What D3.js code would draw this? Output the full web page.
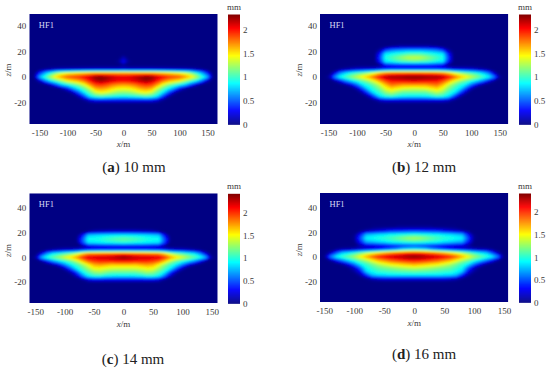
<!DOCTYPE html>
<html><head><meta charset="utf-8">
<style>html,body{margin:0;padding:0;background:#fff}svg{display:block}text{font-family:"Liberation Serif",serif;fill:#3a3a3a}</style>
<script src="https://cdn.jsdelivr.net/npm/d3@7/dist/d3.min.js"></script>
</head><body><svg id="c" width="550" height="370"></svg>
<script>
// grid positions of the sampled thickness values (m)
const xSamples=[-160,-150,-140,-130,-120,-110,-100,-90,-80,-70,-60,-50,-40,-30,-20,-10,0,10,20,30,40,50,60,70,80,90,100,110,120,130,140,150,160];
const zSamples=[24,21,18,15,12,9,6,3,0,-3,-6,-9,-12,-15,-18,-21];
const xTicks=[-150,-100,-50,0,50,100,150];
const zTicks=[-20,0,20,40];
const barTicks=[0,0.5,1,1.5,2];
const barLabels=["0","0.5","1","1.5","2"];
const empty=[0,0,0,0,0,0,0,0,0,0,0,0,0,0,0,0,0,0,0,0,0,0,0,0,0,0,0,0,0,0,0,0,0];
const captions=["10 mm","12 mm","14 mm","16 mm"];
const letters=["(a)","(b)","(c)","(d)"];

const thicknessA=[
empty,empty,empty,
[0,0,0,0,0,0,0,0,0,0,0,0,0,0,0,0,.14,0,0,0,0,0,0,0,0,0,0,0,0,0,0,0,0],
[0,0,0,0,0,0,0,0,0,0,0,0,0,0,0,.05,.3,.05,0,0,0,0,0,0,0,0,0,0,0,0,0,0,0],
[0,0,0,0,0,0,0,0,0,0,0,0,0,0,0,0,.05,0,0,0,0,0,0,0,0,0,0,0,0,0,0,0,0],
[0,.02,.05,.09,.12,.14,.15,.16,.17,.18,.19,.2,.2,.2,.2,.2,.22,.2,.2,.2,.2,.2,.19,.18,.17,.16,.15,.14,.12,.09,.05,.02,0],
[0,.35,.7,.95,1.2,1.35,1.45,1.5,1.55,1.6,1.65,1.7,1.7,1.7,1.7,1.7,1.7,1.7,1.7,1.7,1.7,1.7,1.65,1.6,1.55,1.5,1.45,1.35,1.2,.95,.7,.35,0],
[.03,.7,1,1.3,1.55,1.72,1.85,1.9,1.95,2.05,2.15,2.3,2.32,2.27,2.18,2.12,2.1,2.12,2.18,2.27,2.32,2.3,2.15,2.05,1.95,1.9,1.85,1.72,1.55,1.3,1,.7,.03],
[0,.15,.55,.85,1.05,1.25,1.45,1.55,1.65,1.8,2,2.2,2.28,2.2,2.12,2.07,2.05,2.07,2.12,2.2,2.28,2.2,2,1.8,1.65,1.55,1.45,1.25,1.05,.85,.55,.15,0],
[0,0,.02,.15,.45,.75,.9,1.05,1.2,1.4,1.7,1.9,1.95,1.88,1.78,1.72,1.7,1.72,1.78,1.88,1.95,1.9,1.7,1.4,1.2,1.05,.9,.75,.45,.15,.02,0,0],
[0,0,0,0,0,.08,.3,.65,.88,1.1,1.35,1.65,1.7,1.65,1.55,1.47,1.45,1.47,1.55,1.65,1.7,1.65,1.35,1.1,.88,.65,.3,.08,0,0,0,0,0],
[0,0,0,0,0,0,.02,.15,.5,.85,1.1,1.35,1.45,1.4,1.3,1.22,1.2,1.22,1.3,1.4,1.45,1.35,1.1,.85,.5,.15,.02,0,0,0,0,0,0],
[0,0,0,0,0,0,0,0,.12,.45,.85,1,1.05,1,.95,.92,.9,.92,.95,1,1.05,1,.85,.45,.12,0,0,0,0,0,0,0,0],
[0,0,0,0,0,0,0,0,0,.06,.22,.3,.3,.3,.3,.3,.3,.3,.3,.3,.3,.3,.22,.06,0,0,0,0,0,0,0,0,0],
empty];

const thicknessB=[
[0,0,0,0,0,0,0,0,0,0,0,0,.03,.05,.05,.05,.05,.05,.05,.05,.03,0,0,0,0,0,0,0,0,0,0,0,0],
[0,0,0,0,0,0,0,0,0,0,.1,.4,.55,.6,.63,.65,.65,.65,.63,.6,.55,.4,.1,0,0,0,0,0,0,0,0,0,0],
[0,0,0,0,0,0,0,0,0,0,.35,.85,.9,.95,1,1.05,1.05,1.05,1,.95,.9,.85,.35,0,0,0,0,0,0,0,0,0,0],
[0,0,0,0,0,0,0,0,0,0,.45,.95,1.05,1.15,1.25,1.33,1.35,1.33,1.25,1.15,1.05,.95,.45,0,0,0,0,0,0,0,0,0,0],
[0,0,0,0,0,0,0,0,0,0,.35,.85,.9,.98,1.03,1.05,1.07,1.05,1.03,.98,.9,.85,.35,0,0,0,0,0,0,0,0,0,0],
[0,0,0,0,0,0,0,0,0,0,.05,.25,.28,.3,.3,.3,.3,.3,.3,.3,.28,.25,.05,0,0,0,0,0,0,0,0,0,0],
[0,0,0,.05,.1,.15,.2,.22,.24,.26,.3,.35,.4,.4,.4,.4,.4,.4,.4,.4,.4,.35,.3,.26,.24,.22,.2,.15,.1,.05,0,0,0],
[0,0,.2,.6,.8,.95,1.05,1.15,1.25,1.4,1.6,1.75,1.8,1.82,1.84,1.85,1.85,1.85,1.84,1.82,1.8,1.75,1.6,1.4,1.25,1.15,1.05,.95,.8,.6,.2,0,0],
[0,.08,.6,.9,1.05,1.2,1.35,1.5,1.65,1.85,2.05,2.2,2.27,2.28,2.3,2.32,2.32,2.32,2.3,2.28,2.27,2.2,2.05,1.85,1.65,1.5,1.35,1.2,1.05,.9,.6,.08,0],
[0,0,.07,.3,.6,.8,.95,1.1,1.25,1.45,1.7,1.9,2.03,2.05,2.08,2.1,2.12,2.1,2.08,2.05,2.03,1.9,1.7,1.45,1.25,1.1,.95,.8,.6,.3,.07,0,0],
[0,0,0,0,.07,.25,.55,.85,.97,1.15,1.35,1.62,1.8,1.75,1.7,1.7,1.7,1.7,1.7,1.75,1.8,1.62,1.35,1.15,.97,.85,.55,.25,.07,0,0,0,0],
[0,0,0,0,0,0,.15,.5,.85,1,1.18,1.42,1.55,1.48,1.4,1.37,1.35,1.37,1.4,1.48,1.55,1.42,1.18,1,.85,.5,.15,0,0,0,0,0,0],
[0,0,0,0,0,0,0,.15,.5,.88,1,1.2,1.3,1.2,1.1,1.1,1.1,1.1,1.1,1.2,1.3,1.2,1,.88,.5,.15,0,0,0,0,0,0,0],
[0,0,0,0,0,0,0,0,.12,.45,.83,.95,1,.92,.87,.85,.85,.85,.87,.92,1,.95,.83,.45,.12,0,0,0,0,0,0,0,0],
[0,0,0,0,0,0,0,0,0,.05,.18,.25,.25,.25,.25,.25,.25,.25,.25,.25,.25,.25,.18,.05,0,0,0,0,0,0,0,0,0],
empty];

const thicknessC=[
empty,
[0,0,0,0,0,0,0,0,0,0,.05,.12,.15,.17,.2,.2,.2,.2,.2,.17,.15,.12,.05,0,0,0,0,0,0,0,0,0,0],
[0,0,0,0,0,0,0,0,0,.3,.78,.82,.85,.87,.88,.9,.9,.9,.88,.87,.85,.82,.78,.3,0,0,0,0,0,0,0,0,0],
[0,0,0,0,0,0,0,0,.03,.5,.95,.97,1,1.05,1.1,1.13,1.15,1.13,1.1,1.05,1,.97,.95,.5,.03,0,0,0,0,0,0,0,0],
[0,0,0,0,0,0,0,0,0,.45,.85,.87,.9,.93,.95,.98,1,.98,.95,.93,.9,.87,.85,.45,0,0,0,0,0,0,0,0,0],
[0,0,0,0,0,0,0,0,0,.05,.2,.22,.25,.25,.25,.25,.25,.25,.25,.25,.25,.22,.2,.05,0,0,0,0,0,0,0,0,0],
[0,0,0,.05,.1,.15,.2,.22,.25,.32,.4,.42,.45,.45,.45,.45,.45,.45,.45,.45,.45,.42,.4,.32,.25,.22,.2,.15,.1,.05,0,0,0],
[0,0,.25,.65,.9,1,1.1,1.2,1.35,1.6,1.8,1.83,1.85,1.88,1.9,1.93,1.95,1.93,1.9,1.88,1.85,1.83,1.8,1.6,1.35,1.2,1.1,1,.9,.65,.25,0,0],
[0,.08,.72,1,1.15,1.3,1.45,1.6,1.78,2.02,2.2,2.22,2.24,2.25,2.28,2.35,2.41,2.35,2.28,2.25,2.24,2.22,2.2,2.02,1.78,1.6,1.45,1.3,1.15,1,.72,.08,0],
[0,0,.07,.35,.65,.85,1,1.15,1.35,1.65,1.9,2,2.05,2.07,2.08,2.1,2.1,2.1,2.08,2.07,2.05,2,1.9,1.65,1.35,1.15,1,.85,.65,.35,.07,0,0],
[0,0,0,0,.07,.25,.6,.88,1.05,1.25,1.5,1.7,1.75,1.7,1.65,1.65,1.65,1.65,1.65,1.7,1.75,1.7,1.5,1.25,1.05,.88,.6,.25,.07,0,0,0,0],
[0,0,0,0,0,0,.15,.5,.88,1.1,1.3,1.5,1.5,1.45,1.42,1.4,1.4,1.4,1.42,1.45,1.5,1.5,1.3,1.1,.88,.5,.15,0,0,0,0,0,0],
[0,0,0,0,0,0,0,.12,.45,.9,1.1,1.25,1.3,1.22,1.15,1.15,1.15,1.15,1.15,1.22,1.3,1.25,1.1,.9,.45,.12,0,0,0,0,0,0,0],
[0,0,0,0,0,0,0,0,.15,.55,.9,1,1,.93,.9,.88,.88,.88,.9,.93,1,1,.9,.55,.15,0,0,0,0,0,0,0,0],
[0,0,0,0,0,0,0,0,0,.06,.22,.28,.28,.28,.28,.28,.28,.28,.28,.28,.28,.28,.22,.06,0,0,0,0,0,0,0,0,0],
empty];

const thicknessD=[
[0,0,0,0,0,0,0,0,0,.02,.03,.04,.04,.05,.05,.05,.05,.05,.05,.05,.04,.04,.03,.02,0,0,0,0,0,0,0,0,0],
[0,0,0,0,0,0,0,.04,.12,.18,.25,.3,.38,.4,.42,.45,.45,.45,.42,.4,.38,.3,.25,.18,.12,.04,0,0,0,0,0,0,0],
[0,0,0,0,0,0,.03,.35,.75,.8,.85,.88,.93,.95,.98,1,1.02,1,.98,.95,.93,.88,.85,.8,.75,.35,.03,0,0,0,0,0,0],
[0,0,0,0,0,0,.05,.5,.9,.95,1,1.03,1.08,1.15,1.23,1.3,1.33,1.3,1.23,1.15,1.08,1.03,1,.95,.9,.5,.05,0,0,0,0,0,0],
[0,0,0,0,0,0,.02,.35,.7,.75,.8,.85,.92,.95,.98,1,1.02,1,.98,.95,.92,.85,.8,.75,.7,.35,.02,0,0,0,0,0,0],
[0,0,0,0,0,0,0,.1,.2,.22,.25,.3,.35,.4,.45,.48,.5,.48,.45,.4,.35,.3,.25,.22,.2,.1,0,0,0,0,0,0,0],
[0,0,0,.05,.1,.12,.15,.2,.25,.3,.35,.45,.55,.65,.8,.87,.9,.87,.8,.65,.55,.45,.35,.3,.25,.2,.15,.12,.1,.05,0,0,0],
[0,0,.15,.5,.8,.9,1.02,1.18,1.32,1.45,1.58,1.7,1.8,1.88,1.95,2.02,2.05,2.02,1.95,1.88,1.8,1.7,1.58,1.45,1.32,1.18,1.02,.9,.8,.5,.15,0,0],
[0,.03,.6,.9,1.05,1.18,1.32,1.52,1.72,1.9,2.05,2.15,2.23,2.27,2.32,2.38,2.41,2.38,2.32,2.27,2.23,2.15,2.05,1.9,1.72,1.52,1.32,1.18,1.05,.9,.6,.03,0],
[0,0,.07,.35,.6,.82,1,1.18,1.32,1.52,1.7,1.8,1.9,1.97,2.04,2.08,2.1,2.08,2.04,1.97,1.9,1.8,1.7,1.52,1.32,1.18,1,.82,.6,.35,.07,0,0],
[0,0,0,0,.08,.3,.6,.9,1.05,1.2,1.35,1.45,1.55,1.6,1.65,1.7,1.75,1.7,1.65,1.6,1.55,1.45,1.35,1.2,1.05,.9,.6,.3,.08,0,0,0,0],
[0,0,0,0,0,.03,.18,.55,.95,1.05,1.15,1.2,1.25,1.3,1.35,1.38,1.4,1.38,1.35,1.3,1.25,1.2,1.15,1.05,.95,.55,.18,.03,0,0,0,0,0],
[0,0,0,0,0,0,.07,.3,.8,.95,1.03,1.05,1.08,1.1,1.12,1.13,1.15,1.13,1.12,1.1,1.08,1.05,1.03,.95,.8,.3,.07,0,0,0,0,0,0],
[0,0,0,0,0,0,0,.1,.4,.75,.83,.85,.88,.88,.88,.88,.88,.88,.88,.88,.88,.85,.83,.75,.4,.1,0,0,0,0,0,0,0],
[0,0,0,0,0,0,0,0,.04,.14,.2,.25,.25,.25,.25,.25,.25,.25,.25,.25,.25,.25,.2,.14,.04,0,0,0,0,0,0,0,0],
empty];

const fields=[thicknessA,thicknessB,thicknessC,thicknessD];
// axis limits of each panel
const xLimits=[168,165,160,157];
const zLimits=[[-36.6,49],[-36.6,49],[-37,52],[-37,52]];
const barMax=[2.32,2.32,2.41,2.41];

// layout (px)
const plots=[{x0:29.3,x1:217.7,y0:14,y1:124,bx:228,mm:7,cap:167,capx:134,xt:133,xl:144,zx:8},
             {x0:320,x1:508.3,y0:14,y1:124,bx:519,mm:7,cap:167,capx:424,xt:133,xl:144,zx:299},
             {x0:29.3,x1:217.7,y0:193.3,y1:303,bx:228,mm:186,cap:359,capx:133,xt:312,xl:324,zx:8},
             {x0:320,x1:508.3,y0:193,y1:302,bx:519,mm:186,cap:354,capx:424,xt:311,xl:323,zx:299}];

const svg=d3.select("#c");
const defs=svg.append("defs");
defs.append("filter").attr("id","soft").attr("x","-5%").attr("y","-5%").attr("width","110%").attr("height","110%")
  .append("feGaussianBlur").attr("stdDeviation",0.9);

const jet=t=>d3.scaleLinear().domain([0,.125,.375,.625,.875,1])
  .range(["#000083","#0000ff","#00ffff","#ffff00","#ff0000","#7f0000"]).clamp(true)(t);

plots.forEach((p,k)=>{
  const g=svg.append("g");
  const x=d3.scaleLinear().domain([-xLimits[k],xLimits[k]]).range([p.x0,p.x1]);
  const z=d3.scaleLinear().domain(zLimits[k]).range([p.y1,p.y0]);
  const color=d3.scaleLinear().domain([0,barMax[k]]).range([0,1]);
  defs.append("clipPath").attr("id","clip"+k).append("rect")
    .attr("x",p.x0).attr("y",p.y0).attr("width",p.x1-p.x0).attr("height",p.y1-p.y0);

  const field=fields[k], n=xSamples.length, m=zSamples.length;
  const values=field.flat();
  const dx=xSamples[1]-xSamples[0], dz=zSamples[1]-zSamples[0];
  const path=d3.geoPath(d3.geoTransform({point(a,b){
    this.stream.point(x(xSamples[0]+(a-.5)*dx), z(zSamples[0]+(b-.5)*dz));
  }}));
  const levels=d3.range(0.02,barMax[k],0.03);
  const contours=d3.contours().size([n,m]).smooth(true).thresholds(levels)(values);

  const plot=g.append("g").attr("clip-path",`url(#clip${k})`);
  plot.append("rect").attr("x",p.x0).attr("y",p.y0).attr("width",p.x1-p.x0).attr("height",p.y1-p.y0).attr("fill",jet(0));
  const inner=plot.append("g").attr("filter","url(#soft)");
  inner.selectAll("path").data(contours).join("path")
    .attr("d",path).attr("fill",d=>jet(color(d.value))).attr("stroke","none");

  g.append("text").attr("x",p.x0+9.5).attr("y",p.y0+14).attr("font-size",8.5).style("fill","#d8dcf5").text("HF1");

  // axes
  const xa=g.append("g").attr("transform",`translate(0,${p.xt})`)
    .call(d3.axisBottom(x).tickValues(xTicks).tickSize(0).tickPadding(0).tickFormat(d=>String(d)));
  const za=g.append("g").attr("transform",`translate(${p.x0},0)`)
    .call(d3.axisLeft(z).tickValues(zTicks).tickSize(0).tickPadding(3).tickFormat(d=>String(d)));
  [xa,za].forEach(a=>{a.select(".domain").remove();
    a.selectAll("text").attr("font-family",null).attr("font-size",9).style("fill","#3a3a3a");});
  xa.selectAll("text").attr("y",0).attr("dy","0.32em");

  const xl=g.append("text").attr("x",(p.x0+p.x1)/2).attr("y",p.xl+3).attr("text-anchor","middle").attr("font-size",9);
  xl.append("tspan").attr("font-style","italic").text("x");xl.append("tspan").text("/m");
  const zl=g.append("text").attr("transform",`translate(${p.zx+3},${z(0)-7}) rotate(-90)`).attr("text-anchor","middle").attr("font-size",9);
  zl.append("tspan").attr("font-style","italic").text("z");zl.append("tspan").text("/m");

  // colour bar
  const barW=12;
  const yb=d3.scaleLinear().domain([0,barMax[k]]).range([p.y1+.3,p.y0+.5]);
  const steps=d3.range(0,barMax[k],barMax[k]/110);
  g.append("g").selectAll("rect").data(steps).join("rect")
    .attr("x",p.bx).attr("width",barW)
    .attr("y",d=>yb(d+barMax[k]/110)).attr("height",d=>yb(d)-yb(d+barMax[k]/110)+.5)
    .attr("fill",d=>jet(color(d)));
  const ba=g.append("g").attr("transform",`translate(${p.bx+barW},0)`)
    .call(d3.axisRight(yb).tickValues(barTicks).tickSize(0).tickPadding(3).tickFormat((d,i)=>barLabels[i]));
  ba.select(".domain").remove();
  ba.selectAll("text").attr("font-family",null).attr("font-size",9).style("fill","#3a3a3a");
  g.append("text").attr("x",p.bx+6).attr("y",p.mm+2.5).attr("text-anchor","middle").attr("font-size",9).text("mm");

  // caption
  const c=g.append("text").attr("x",p.capx).attr("y",p.cap+4.5).attr("text-anchor","middle").attr("font-size",15).style("fill","#222");
  c.append("tspan").text("(");
  c.append("tspan").attr("font-weight","bold").text(letters[k].slice(1,2));
  c.append("tspan").text(") "+captions[k]);
});
</script></body></html>
